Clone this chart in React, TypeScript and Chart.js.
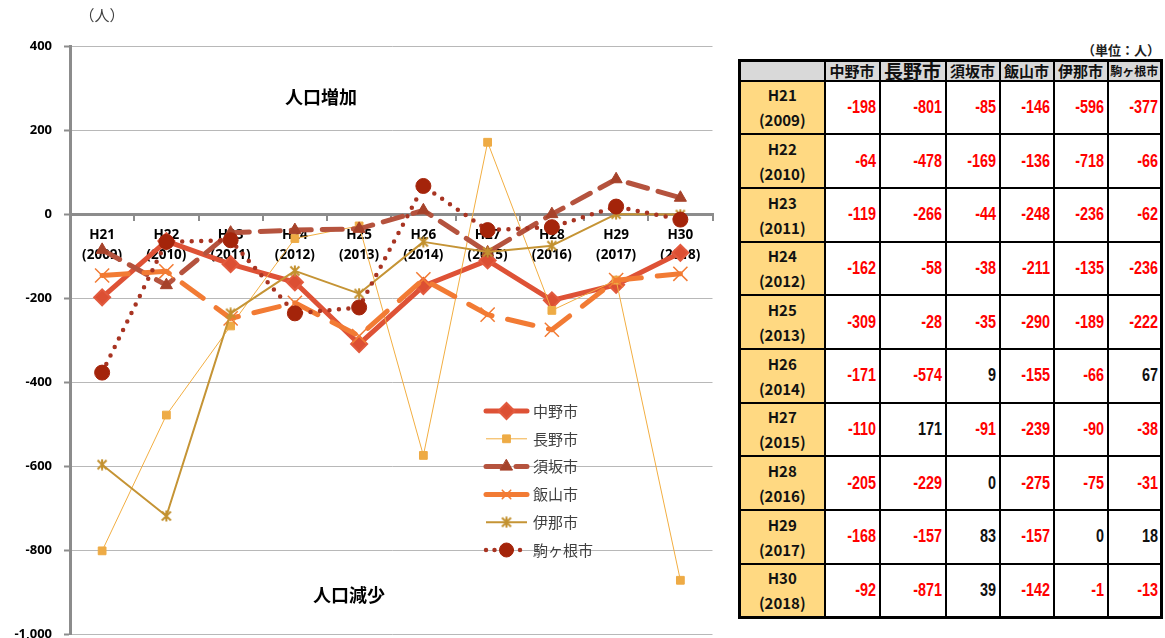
import React, { useEffect, useRef } from 'react';
import { Chart, registerables } from 'chart.js';
import { drawPoint } from 'chart.js/helpers';

Chart.register(...registerables);

// ---------- data ----------
const eraYears = ['H21', 'H22', 'H23', 'H24', 'H25', 'H26', 'H27', 'H28', 'H29', 'H30'];
const westernYears = ['(2009)', '(2010)', '(2011)', '(2012)', '(2013)', '(2014)', '(2015)', '(2016)', '(2017)', '(2018)'];
const cities = ['中野市', '長野市', '須坂市', '飯山市', '伊那市', '駒ヶ根市'];
const nakano = [-198, -64, -119, -162, -309, -171, -110, -205, -168, -92];
const nagano = [-801, -478, -266, -58, -28, -574, 171, -229, -157, -871];
const suzaka = [-85, -169, -44, -38, -35, 9, -91, 0, 83, 39];
const iiyama = [-146, -136, -248, -211, -290, -155, -239, -275, -157, -142];
const ina = [-596, -718, -236, -135, -189, -66, -90, -75, 0, -1];
const komagane = [-377, -66, -62, -236, -222, 67, -38, -31, 18, -13];
const yMin = -1000;
const yMax = 400;
const yStep = 200;
const unitLabel = '（人）';
const upLabel = '人口増加';
const downLabel = '人口減少';
const tableUnit = '（単位：人）';

const seriesValues = [nakano, nagano, suzaka, iiyama, ina, komagane];

// ---------- styles ----------
const headerFontSizes = [15, 19, 15, 15, 15, 12];
const colWidths = [85, 55, 66, 54, 54, 54, 54];
const axisFont = '"Open Sans"';

function makeAsterisk(color: string, size: number) {
  const c = document.createElement('canvas');
  c.width = size;
  c.height = size;
  const ctx = c.getContext('2d')!;
  ctx.strokeStyle = color;
  ctx.lineWidth = 2;
  const m = size / 2;
  const r = size / 2 - 1.5;
  ctx.beginPath();
  ctx.moveTo(m - r, m - r);
  ctx.lineTo(m + r, m + r);
  ctx.moveTo(m + r, m - r);
  ctx.lineTo(m - r, m + r);
  ctx.moveTo(m, m - r - 1);
  ctx.lineTo(m, m + r + 1);
  ctx.stroke();
  return c;
}

const overlayPlugin = {
  id: 'overlay',
  afterDatasetsDraw(chart: any) {
    const ctx = chart.ctx as CanvasRenderingContext2D;
    const area = chart.chartArea;
    ctx.save();
    // annotations
    ctx.fillStyle = '#404040';
    ctx.font = '15px "Noto Sans CJK JP"';
    ctx.textAlign = 'center';
    ctx.textBaseline = 'middle';
    ctx.fillText(unitLabel, area.left + 32, 15);
    ctx.fillStyle = '#000';
    ctx.font = 'bold 18px "Noto Sans CJK JP"';
    ctx.fillText(upLabel, area.left + 251, 97);
    ctx.fillText(downLabel, area.left + 279, 595);

    // legend
    const x0 = area.left + 416;
    const x1 = area.left + 457;
    const xm = (x0 + x1) / 2;
    const yTop = 411;
    const gap = 27.8;
    chart.data.datasets.forEach((ds: any, i: number) => {
      const y = yTop + i * gap;
      ctx.save();
      ctx.strokeStyle = ds.borderColor;
      ctx.lineWidth = ds.borderWidth;
      ctx.lineCap = ds.borderCapStyle || 'butt';
      ctx.setLineDash(ds.legendDash || ds.borderDash || []);
      ctx.beginPath();
      ctx.moveTo(x0, y);
      ctx.lineTo(x1, y);
      ctx.stroke();
      ctx.setLineDash([]);
      ctx.fillStyle = ds.pointBackgroundColor;
      ctx.strokeStyle = ds.pointBorderColor;
      ctx.lineWidth = ds.pointBorderWidth;
      drawPoint(ctx, { pointStyle: ds.pointStyle, rotation: 0, radius: ds.legendRadius, borderWidth: ds.pointBorderWidth } as any, xm, y);
      ctx.restore();
      ctx.fillStyle = '#404040';
      ctx.font = '15px "Noto Sans CJK JP"';
      ctx.textAlign = 'left';
      ctx.textBaseline = 'middle';
      ctx.fillText(cities[i], x1 + 6, y);
    });
    ctx.restore();
  },
};

function LineChart() {
  const ref = useRef<HTMLCanvasElement>(null);
  useEffect(() => {
    if (!ref.current) return;
    const asterisk = makeAsterisk('#c3912f', 12);
    const styles = [
      { color: '#de5236', width: 5, dash: [], ldash: [], cap: 'round', point: 'rectRot', pr: 8, lr: 8, pbg: '#dc4f33', pbc: '#e25a3e', pbw: 2 },
      { color: '#f2ae42', width: 1, dash: [], ldash: [], cap: 'butt', point: 'rect', pr: 5.5, lr: 5.5, pbg: '#eeab45', pbc: '#eeab45', pbw: 1 },
      { color: '#b5533e', width: 5, dash: [20, 11], ldash: [16, 14], cap: 'round', point: 'triangle', pr: 7, lr: 7, pbg: '#a6422a', pbc: '#a6422a', pbw: 1 },
      { color: '#f27b34', width: 5, dash: [26, 16], ldash: [], cap: 'round', point: 'crossRot', pr: 10, lr: 6, pbg: '#f27b34', pbc: '#f27b34', pbw: 1.5 },
      { color: '#c59435', width: 2, dash: [], ldash: [], cap: 'butt', point: asterisk, pr: 6, lr: 6, pbg: '#c59435', pbc: '#c59435', pbw: 2 },
      { color: '#a83422', width: 4.5, dash: [0, 9.5], ldash: [0, 8.5], cap: 'round', point: 'circle', pr: 7.5, lr: 7, pbg: '#a4240a', pbc: '#a4240a', pbw: 1 },
    ];
    const chart = new Chart(ref.current, {
      type: 'line',
      data: {
        labels: eraYears.map((e, i) => [e, westernYears[i]]),
        datasets: cities.map((c, i) => ({
          label: c,
          data: seriesValues[i],
          borderColor: styles[i].color,
          backgroundColor: styles[i].color,
          borderWidth: styles[i].width,
          borderDash: styles[i].dash,
          legendDash: styles[i].ldash,
          legendRadius: styles[i].lr,
          borderCapStyle: styles[i].cap,
          borderJoinStyle: 'round',
          pointStyle: styles[i].point,
          pointRadius: styles[i].pr,
          pointBackgroundColor: styles[i].pbg,
          pointBorderColor: styles[i].pbc,
          pointBorderWidth: styles[i].pbw,
          tension: 0,
          fill: false,
          order: cities.length - i,
        })) as any,
      },
      options: {
        responsive: false,
        animation: false,
        layout: { padding: { top: 46, right: 8, bottom: 6, left: 0 } },
        plugins: { legend: { display: false }, tooltip: { enabled: false } },
        scales: {
          x: {
            type: 'category',
            offset: true,
            position: { y: 0 } as any,
            afterFit: (s: any) => { s.paddingLeft = 0; s.paddingRight = 0; s.paddingTop = 0; s.paddingBottom = 0; },
            grid: { display: true, drawOnChartArea: false, drawTicks: true, tickLength: 5, offset: true, color: '#8c8c8c', lineWidth: 2 },
            border: { display: true, color: '#8c8c8c', width: 3 },
            ticks: { font: { family: axisFont, weight: 'bold', size: 13.5, lineHeight: 1.5 }, color: '#000', padding: 6, maxRotation: 0, autoSkip: false },
          },
          y: {
            min: yMin,
            max: yMax,
            afterFit: (s: any) => { s.width = 70; s.paddingTop = 0; s.paddingBottom = 0; s.paddingLeft = 0; s.paddingRight = 0; },
            grid: { color: '#b8b8b8', lineWidth: 1, tickLength: 6, tickColor: '#8c8c8c', tickWidth: 2 },
            border: { color: '#8c8c8c', width: 3 },
            ticks: {
              stepSize: yStep,
              font: { family: axisFont, weight: 'bold', size: 13 },
              color: '#000',
              padding: 12,
              callback: (v: any) => Number(v).toLocaleString('en-US'),
            },
          },
        },
      } as any,
      plugins: [overlayPlugin],
    });
    return () => chart.destroy();
  }, []);
  return <canvas ref={ref} width={724} height={646} style={{ position: 'absolute', left: 0, top: 0, width: 724, height: 646 }} />;
}

function DataTable() {
  const border = '2px solid #000';
  const cellBase: React.CSSProperties = { border, padding: 0 };
  return (
    <div style={{ position: 'absolute', left: 738, top: 40 }}>
      <div style={{ width: 422, textAlign: 'right', font: 'bold 13px "Noto Sans CJK JP"', color: '#222', height: 19, lineHeight: '19px' }}>{tableUnit}</div>
      <table style={{ borderCollapse: 'collapse', tableLayout: 'fixed', width: 422, border: '3px solid #000' }}>
        <colgroup>
          {colWidths.map((w, i) => <col key={i} style={{ width: w }} />)}
        </colgroup>
        <thead>
          <tr style={{ height: 20 }}>
            <th style={{ ...cellBase, background: '#d9d9d9' }} />
            {cities.map((c, i) => (
              <th key={c} style={{ ...cellBase, background: '#d9d9d9', fontFamily: '"Noto Sans CJK JP"', fontWeight: 'bold', fontSize: headerFontSizes[i], lineHeight: '16px', color: '#111', whiteSpace: 'nowrap' }}>{c}</th>
            ))}
          </tr>
        </thead>
        <tbody>
          {eraYears.map((e, r) => (
            <tr key={e} style={{ height: 53.7 }}>
              <td style={{ ...cellBase, background: '#ffd982', textAlign: 'center', fontFamily: '"Noto Sans CJK JP"', fontWeight: 'bold', fontSize: 15, lineHeight: '25px', color: '#111' }}>
                <div>{e}</div>
                <div>{westernYears[r]}</div>
              </td>
              {seriesValues.map((s, c) => (
                <td key={c} style={{ ...cellBase, textAlign: 'right', paddingRight: 2, fontFamily: '"Liberation Sans"', fontWeight: 'bold', fontSize: 18, color: s[r] < 0 ? '#ff0000' : '#111' }}>
                  <span style={{ display: 'inline-block', transform: 'scaleX(0.8)', transformOrigin: 'right center' }}>{s[r]}</span>
                </td>
              ))}
            </tr>
          ))}
        </tbody>
      </table>
    </div>
  );
}

export default function App() {
  return (
    <div style={{ position: 'absolute', left: 0, top: 0, width: 1165, height: 638, background: '#fff', overflow: 'hidden' }}>
      <LineChart />
      <DataTable />
    </div>
  );
}
